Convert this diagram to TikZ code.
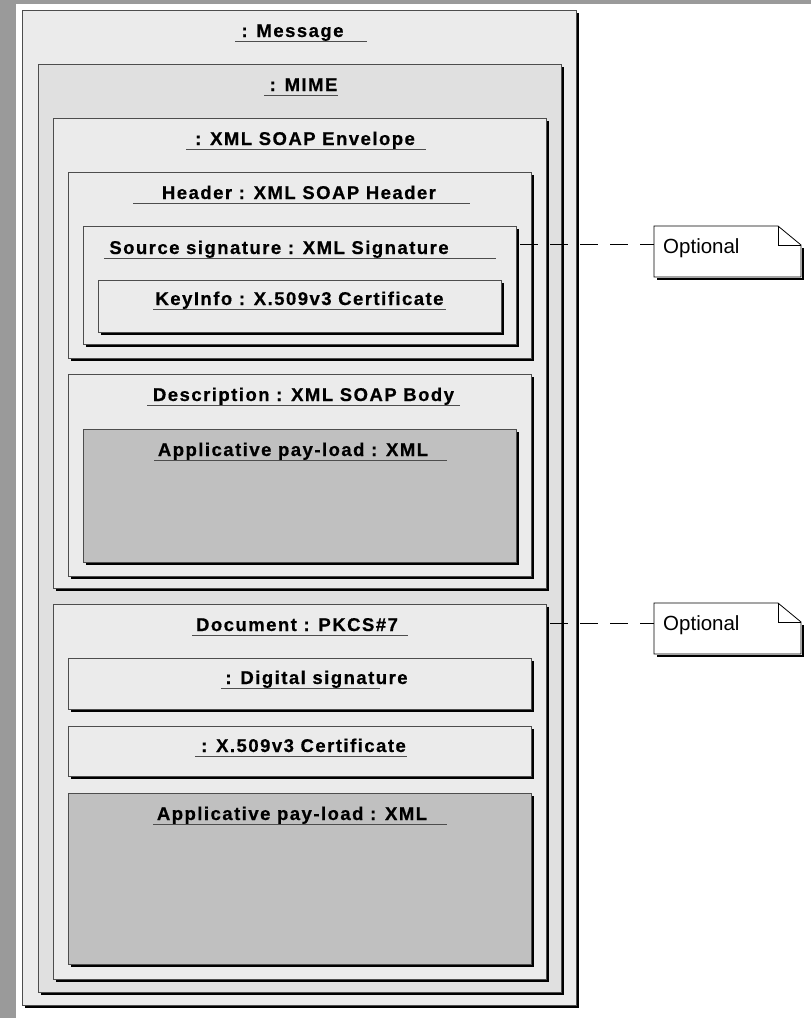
\documentclass[tikz,border=0pt]{standalone}
\usepackage{fontspec}
\setmainfont{Liberation Sans}
\newfontfamily\lblfont[LetterSpace=8, BoldFeatures={FakeBold=0.6}]{Liberation Sans}
\definecolor{strip}{HTML}{9A9A9A}
\definecolor{lightf}{HTML}{EBEBEB}
\definecolor{midf}{HTML}{E0E0E0}
\definecolor{darkf}{HTML}{C0C0C0}
\definecolor{edge}{HTML}{4D4D4D}
\tikzset{
  box/.style={draw=edge, line width=0.9pt, inner sep=0pt, outer sep=0pt, anchor=north west},
  shade/.style={line width=1.8pt, black},
  lbl/.style={anchor=base, inner sep=0pt, font=\lblfont\bfseries\fontsize{18.5}{21}\selectfont},
  uline/.style={draw=edge, line width=1.2pt},
  notebox/.style={inner sep=0pt, outer sep=0pt, anchor=north west, minimum width=147pt, minimum height=51pt},
  noteline/.style={draw=black, line width=0.8pt},
  opttext/.style={anchor=base west, inner sep=0pt, font=\fontsize{20.5}{23}\selectfont},
  dashline/.style={draw=black, line width=0.8pt, dash pattern=on 18pt off 12pt}
}
\newcommand\ubox[6]{%
  \node[box, fill=#6, minimum width={#4pt-#2pt}, minimum height={#5pt-#3pt}] (#1) at (#2,#3) {};
  \draw[shade] ([xshift=1.6pt,yshift=-3pt]#1.north east) -- ([xshift=1.6pt,yshift=-1.6pt]#1.south east) -- ([xshift=3pt,yshift=-1.6pt]#1.south west);
}
\newcommand\ulabel[6]{%
  \node[lbl] (#1) at (#2,#3) {#4};
  \draw[uline] (#5,#3+4.5) -- (#6,#3+4.5);
}
\newcommand\unote[3]{%
  \node[notebox] (#1) at (654,#2) {};
  \draw[noteline, fill=white] (#1.north west) -- ([xshift=-23pt]#1.north east) -- ([yshift=-19pt]#1.north east) -- (#1.south east) -- (#1.south west) -- cycle;
  \draw[noteline] ([xshift=-23pt]#1.north east) |- ([yshift=-19pt]#1.north east);
  \draw[shade] ([xshift=1.6pt,yshift=-22pt]#1.north east) -- ([xshift=1.6pt,yshift=-1.6pt]#1.south east) -- ([xshift=3pt,yshift=-1.6pt]#1.south west);
  \node[opttext] (#3) at (663,#2+27) {Optional};
}
\begin{document}
\begin{tikzpicture}[x=1pt, y=-1pt]
\useasboundingbox (0,0) rectangle (811,1018);
\fill[white] (0,0) rectangle (811,1018);
\fill[strip] (0,0) rectangle (811,3.5);
\fill[strip] (0,0) rectangle (15.5,1018);

\ubox{msg}{22}{10}{576}{1005}{lightf}
\ubox{mime}{38}{64}{561}{992}{midf}
\ubox{env}{53}{118}{546}{588}{lightf}
\ubox{hdr}{68}{172}{531}{358}{lightf}
\ubox{srcsig}{83}{226}{516}{344}{lightf}
\ubox{keyinfo}{98}{280}{501}{332}{lightf}
\ubox{body}{68}{374}{531}{576}{lightf}
\ubox{pay1}{83}{429}{516}{562}{darkf}
\ubox{doc}{53}{604}{546}{979}{lightf}
\ubox{digsig}{68}{658}{531}{709}{lightf}
\ubox{cert}{68}{726}{531}{776}{lightf}
\ubox{pay2}{68}{793}{531}{964}{darkf}

\ulabel{lmsg}{292.5}{37}{: Message}{235}{367}
\ulabel{lmime}{303.5}{91}{: MIME}{264}{338}
\ulabel{lenv}{305}{145}{: XML SOAP Envelope}{186}{426}
\ulabel{lhdr}{299}{199}{Header : XML SOAP Header}{133}{470}
\ulabel{lsrc}{279}{254}{Source signature : XML Signature}{104}{496}
\ulabel{lkey}{299.5}{305}{KeyInfo : X.509v3 Certificate}{153}{446}
\ulabel{lbody}{303.5}{401}{Description : XML SOAP Body}{147}{460}
\ulabel{lpay1}{293}{456}{Applicative pay-load : XML}{154}{447}
\ulabel{ldoc}{297}{631}{Document : PKCS\#7}{192}{408}
\ulabel{ldig}{316.5}{684}{: Digital signature}{221}{380}
\ulabel{lcert}{303.5}{752}{: X.509v3 Certificate}{195}{407}
\ulabel{lpay2}{292}{820}{Applicative pay-load : XML}{153}{447}

\unote{note1}{226}{opt1}
\unote{note2}{603}{opt2}

\draw[dashline] ([xshift=4pt,yshift=-18pt]srcsig.north east) -- ([yshift=-18pt]note1.north west);
\draw[dashline] ([xshift=4pt,yshift=-19pt]doc.north east) -- ([yshift=-20pt]note2.north west);
\end{tikzpicture}
\end{document}
